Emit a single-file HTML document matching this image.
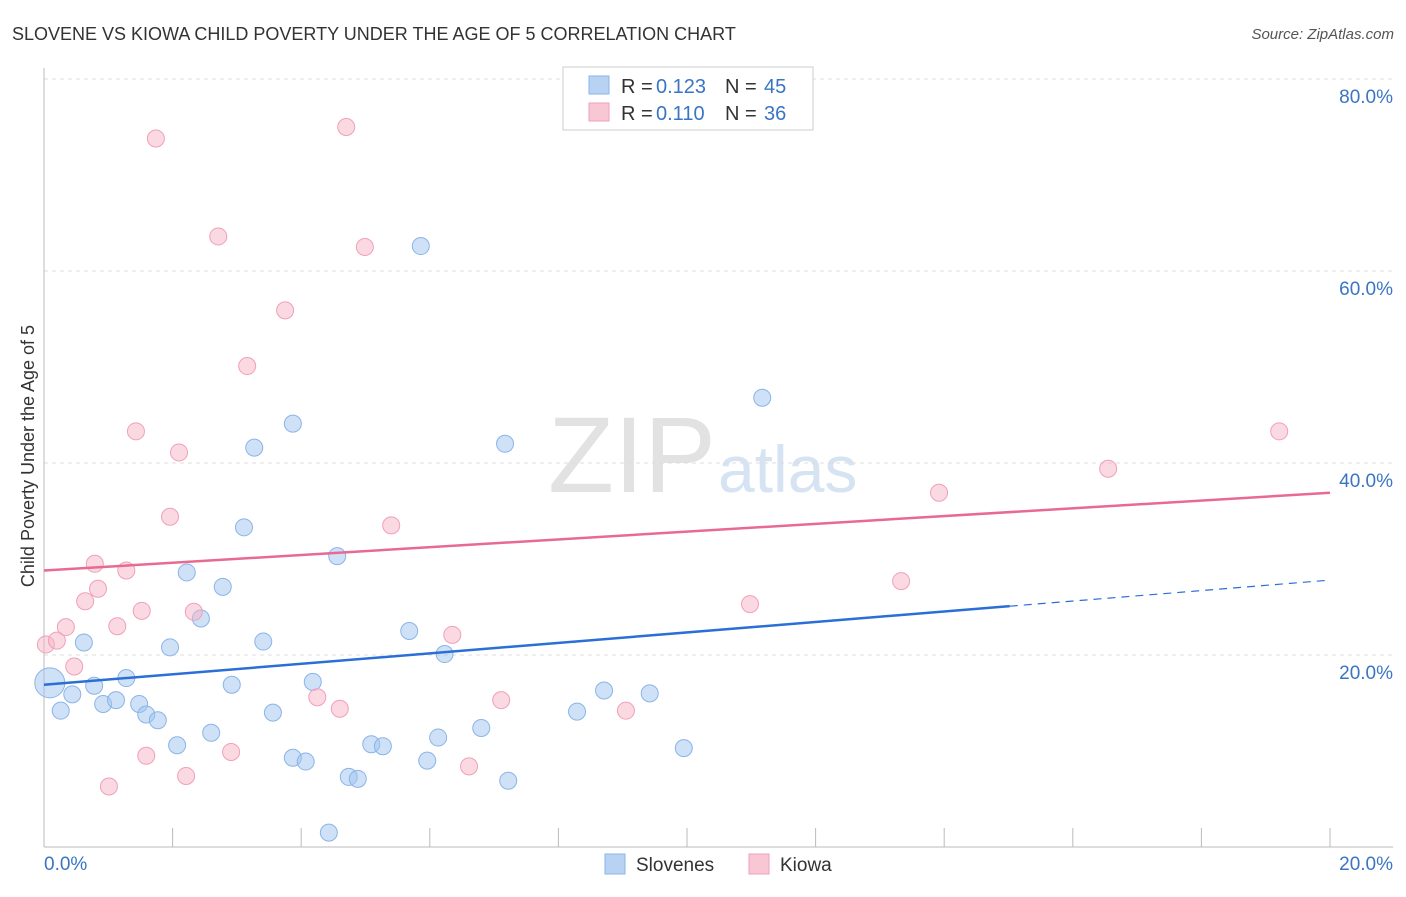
<!DOCTYPE html>
<html><head><meta charset="utf-8"><style>
body{margin:0;background:#fff;font-family:"Liberation Sans",sans-serif}
svg text{font-family:"Liberation Sans",sans-serif}
</style></head><body>
<svg id="c" width="1406" height="892" xmlns="http://www.w3.org/2000/svg">
<text x="12" y="40" font-size="18" fill="#333">SLOVENE VS KIOWA CHILD POVERTY UNDER THE AGE OF 5 CORRELATION CHART</text>
<text x="1394" y="39" font-size="15" fill="#555" font-style="italic" text-anchor="end">Source: ZipAtlas.com</text>
<text x="716" y="492" font-size="108" fill="#e2e2e2" text-anchor="end" font-family="Liberation Serif">ZIP</text>
<text x="718" y="492" font-size="66" fill="#d6e3f3">atlas</text>
<text transform="translate(34,456) rotate(-90)" font-size="18" fill="#333" text-anchor="middle">Child Poverty Under the Age of 5</text>
<g id="grid"></g><g id="marks"></g>
<g>
<rect x="563" y="67" width="250" height="63" fill="#fff" stroke="#ccc"/>
<rect x="589" y="76" width="20" height="18" fill="#b8d2f4" stroke="#8ab4e8"/>
<rect x="589" y="103" width="20" height="18" fill="#f9c6d5" stroke="#f0a0b8"/>
<text x="621" y="93" font-size="20" fill="#333">R =</text><text x="656" y="93" font-size="20" fill="#3a75c4">0.123</text>
<text x="725" y="93" font-size="20" fill="#333">N =</text><text x="764" y="93" font-size="20" fill="#3a75c4">45</text>
<text x="621" y="120" font-size="20" fill="#333">R =</text><text x="656" y="120" font-size="20" fill="#3a75c4">0.110</text>
<text x="725" y="120" font-size="20" fill="#333">N =</text><text x="764" y="120" font-size="20" fill="#3a75c4">36</text>
</g>
<g>
<rect x="605" y="854" width="20" height="20" fill="#b8d2f4" stroke="#8ab4e8"/>
<text x="636" y="871" font-size="19" fill="#333">Slovenes</text>
<rect x="749" y="854" width="20" height="20" fill="#f9c6d5" stroke="#f0a0b8"/>
<text x="780" y="871" font-size="19" fill="#333">Kiowa</text>
</g>
</svg>
<script>
const yTicks=[20,40,60,80];
const xTickLabels=["0.0%","20.0%"];
const blueX=[0.09,0.26,0.44,0.62,0.78,0.92,1.12,1.28,1.48,1.59,1.77,1.96,2.07,2.22,2.44,2.60,2.78,2.92,3.11,3.27,3.41,3.56,3.87,3.87,4.07,4.18,4.56,4.74,4.88,4.43,5.09,5.27,5.68,5.86,5.96,6.13,6.23,6.80,7.17,7.22,8.29,8.71,9.42,9.95,11.17];
const blueY=[17.1,14.2,15.9,21.3,16.8,14.9,15.3,17.6,14.9,13.8,13.2,20.8,10.6,28.6,23.8,11.9,27.1,16.9,33.3,41.6,21.4,14.0,44.1,9.3,8.9,17.2,30.3,7.3,7.1,1.5,10.7,10.5,22.5,62.6,9.0,11.4,20.1,12.4,42.0,6.9,14.1,16.3,16.0,10.3,46.8];
const pinkX=[0.03,0.20,0.34,0.47,0.64,0.79,0.84,1.01,1.14,1.28,1.43,1.52,1.59,1.74,1.96,2.10,2.21,2.33,2.71,2.91,3.16,3.75,4.25,4.60,4.70,4.99,5.40,6.35,6.61,7.11,9.05,10.98,13.33,13.92,16.55,19.21];
const pinkY=[21.1,21.5,22.9,18.8,25.6,29.5,26.9,6.3,23.0,28.8,43.3,24.6,9.5,73.8,34.4,41.1,7.4,24.5,63.6,9.9,50.1,55.9,15.6,14.4,75.0,62.5,33.5,22.1,8.4,15.3,14.2,25.3,27.7,36.9,39.4,43.3];
const blueTrend=[16.9,27.8], pinkTrend=[28.8,36.9], blueSolidEnd=15.02;
const NS="http://www.w3.org/2000/svg";
const X=v=>44+v/20*1286, Y=v=>847-v/20*192;
function mk(p,t,a){const e=document.createElementNS(NS,t);for(const k in a)e.setAttribute(k,a[k]);p.appendChild(e);return e;}
const g=document.getElementById('grid'), m=document.getElementById('marks');
yTicks.forEach(t=>{
 const l=mk(g,'line',{x1:44,x2:1393,y1:Y(t),y2:Y(t),stroke:'#ddd','stroke-dasharray':'4,4'});
 
 
 const tx=mk(g,'text',{x:1393,y:Y(t)+24,'font-size':19,fill:'#3a75c4','text-anchor':'end'});tx.textContent=t.toFixed(1)+'%';
 
 
});
mk(g,'line',{x1:44,x2:44,y1:68,y2:847,stroke:'#bbb'});
mk(g,'line',{x1:44,x2:1393,y1:847,y2:847,stroke:'#bbb'});
for(let i=0;i<=10;i++){const tk=mk(g,'line',{x1:X(i*2),x2:X(i*2),y1:828,y2:847,stroke:'#bbb'});
 
 }
xTickLabels.forEach((s,i)=>{const tx=mk(g,'text',{x:i?1393:44,y:870,'font-size':19,fill:'#3a75c4','text-anchor':i?'end':'start'});tx.textContent=s;
 
 });
blueX.forEach((x,i)=>{const c=mk(m,'circle',{cx:X(x),cy:Y(blueY[i]),r:i==0?15:8.5,fill:'rgba(160,196,240,0.5)',stroke:'#8ab4e8','stroke-width':1});
 
 });
pinkX.forEach((x,i)=>{const c=mk(m,'circle',{cx:X(x),cy:Y(pinkY[i]),r:8.5,fill:'rgba(248,180,200,0.5)',stroke:'#f0a0b8','stroke-width':1});
 
 });
const by=x=>blueTrend[0]+(blueTrend[1]-blueTrend[0])*x/20;
let l=mk(m,'line',{x1:X(0),y1:Y(by(0)),x2:X(blueSolidEnd),y2:Y(by(blueSolidEnd)),stroke:'#2a6fd6','stroke-width':2.5});


l=mk(m,'line',{x1:X(blueSolidEnd),y1:Y(by(blueSolidEnd)),x2:X(20),y2:Y(by(20)),stroke:'#2a6fd6','stroke-width':1.2,'stroke-dasharray':'8,6'});


l=mk(m,'line',{x1:X(0),y1:Y(pinkTrend[0]),x2:X(20),y2:Y(pinkTrend[1]),stroke:'#e86a92','stroke-width':2.5});


</script>
</body></html>
